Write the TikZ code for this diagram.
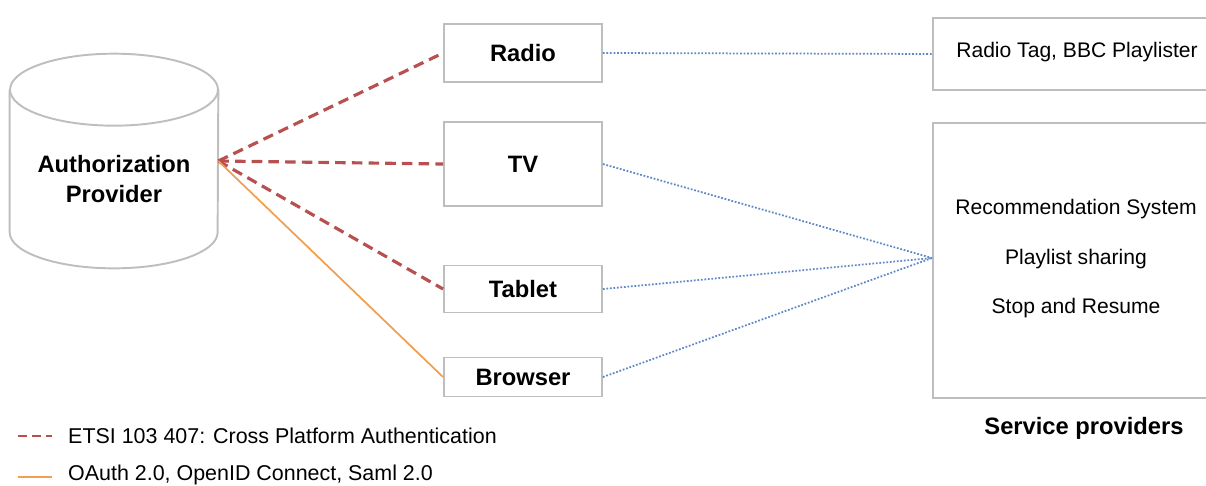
\documentclass[tikz,border=0pt]{standalone}
\usepackage{fontspec}
\setmainfont{Liberation Sans}
\usetikzlibrary{positioning}
\definecolor{etsired}{RGB}{184,80,80}
\definecolor{oauthorange}{RGB}{240,160,80}
\definecolor{linkblue}{RGB}{95,135,200}
\definecolor{boxgray}{RGB}{190,190,190}
\tikzset{
  devbox/.style={draw=boxgray,line width=1.1pt,minimum width=3.16cm,font=\fontsize{13.5}{15}\selectfont\bfseries},
  svcbox/.style={draw=boxgray,line width=1.1pt,minimum width=5.8cm,anchor=north west},
  svctext/.style={font=\fontsize{12}{14}\selectfont},
  dbline/.style={draw=boxgray,line width=1.1pt},
  etsiLink/.style={etsired,dashed,dash pattern=on 6pt off 3.5pt,line width=1.8pt},
  oauthLink/.style={oauthorange,line width=1pt},
  spLink/.style={linkblue,densely dotted,line width=1pt},
  legtext/.style={font=\fontsize{12.2}{14}\selectfont,anchor=west}
}
\begin{document}
\begin{tikzpicture}[x=0.02cm,y=-0.02cm]
  \useasboundingbox (0,0) rectangle (1206,485);
  \clip (0,0) rectangle (1206,485);
  % authorization provider (cylinder body)
  \node[minimum width=4.16cm,minimum height=2.84cm,inner sep=0pt] (ap) at (114,161) {};
  \draw[dbline] (ap.north west) -- (ap.south west)
    arc[start angle=180,end angle=360,x radius=2.08cm,y radius=0.72cm] -- (ap.north east);
  \draw[dbline] (ap.north) ellipse[x radius=2.08cm,y radius=0.72cm];
  \node[align=center,font=\fontsize{13.5}{17}\selectfont\bfseries] (aptxt) at (114,179) {Authorization\\Provider};
  % devices
  \node[devbox,minimum height=1.16cm] (radio) at (523,53) {Radio};
  \node[devbox,minimum height=1.68cm] (tv) at (523,164) {TV};
  \node[devbox,minimum height=0.94cm] (tablet) at (523,289) {Tablet};
  \node[devbox,minimum height=0.78cm] (browser) at (523,377) {Browser};
  % service providers
  \node[svcbox,minimum height=1.44cm] (tag) at (932,17) {};
  \node[svcbox,minimum height=5.5cm] (rec) at (932,122) {};
  \node[svctext] (tagtxt) at (1077,52) {Radio Tag, BBC Playlister};
  \node[svctext] (rs) at (1076,209) {Recommendation System};
  \node[svctext] (ps) at (1076,259) {Playlist sharing};
  \node[svctext] (sr) at (1076,308) {Stop and Resume};
  \node[font=\fontsize{13.5}{15}\selectfont\bfseries] (sp) at (1084,428) {Service providers};
  \coordinate (hub) at (932,258);
  % links
  \draw[etsiLink] (ap.east) -- (radio.west);
  \draw[etsiLink] (ap.east) -- (tv.west);
  \draw[etsiLink] (ap.east) -- (tablet.west);
  \draw[oauthLink] (ap.east) -- (browser.west);
  \draw[spLink] (radio.east) -- (tag.west);
  \draw[spLink] (tv.east) -- (hub);
  \draw[spLink] (tablet.east) -- (hub);
  \draw[spLink] (browser.east) -- (hub);
  % legend
  \coordinate (l1a) at (18,436);
  \coordinate (l1b) at (52,436);
  \coordinate (l2a) at (18,477);
  \coordinate (l2b) at (52,477);
  \draw[etsiLink,line width=1.4pt,dash pattern=on 5pt off 3pt] (l1a) -- (l1b);
  \draw[oauthLink] (l2a) -- (l2b);
  \node[legtext] (etsi) at (62,436) {ETSI 103 407: Cross Platform Authentication};
  \node[legtext] (oauth) at (62,475) {OAuth 2.0, OpenID Connect, Saml 2.0};
\end{tikzpicture}
\end{document}
